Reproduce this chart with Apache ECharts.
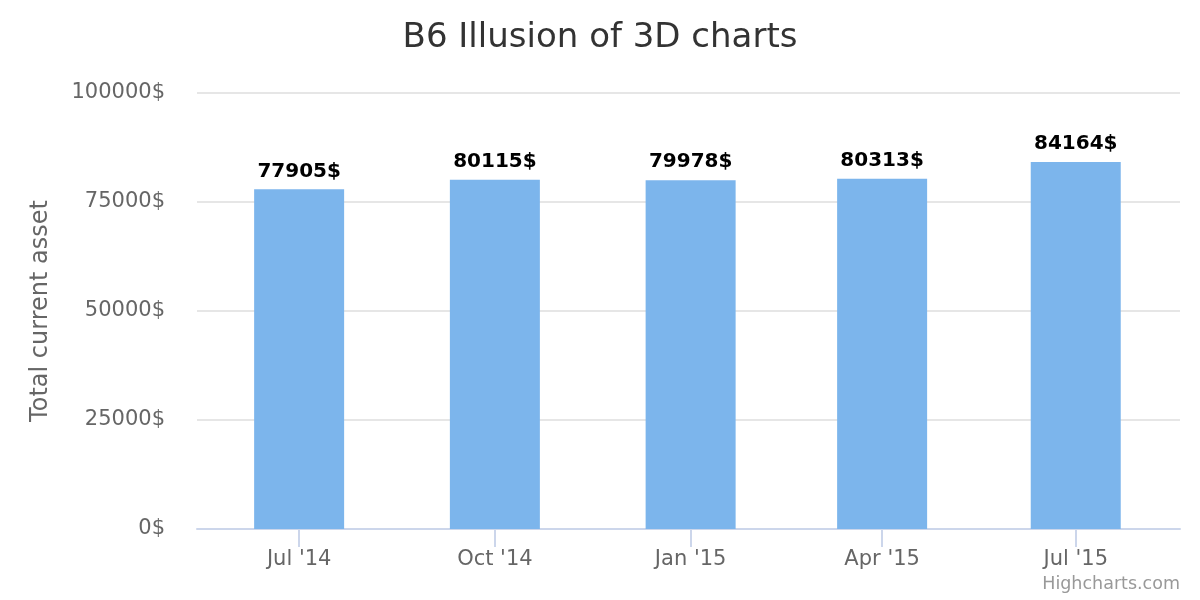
<!DOCTYPE html>
<html><head><meta charset="utf-8">
<script src="https://cdn.jsdelivr.net/npm/echarts@6/dist/echarts.min.js"></script>
<style>html,body{margin:0;padding:0;background:#fff}#c{width:1200px;height:600px}</style>
</head><body><div id="c"></div>
<script>
const periods = ['2014-07-01', '2014-10-01', '2015-01-01', '2015-04-01', '2015-07-01'];
const periodLabels = ["Jul '14", "Oct '14", "Jan '15", "Apr '15", "Jul '15"];
const assets = [77905, 80115, 79978, 80313, 84164];
const yMin = 0, yMax = 100000, yStep = 25000;
const chartTitle = 'B6 Illusion of 3D charts';
const yTitle = 'Total current asset';
const creditText = 'Highcharts.com';

const DAY = 86400000;
// day numbers (days since epoch) used as positions on a linear value axis
const days = periods.map(s => Math.round(Date.parse(s + 'T00:00:00Z') / DAY));
const FONT = 'DejaVu Sans';

const chart = echarts.init(document.getElementById('c'), null, {renderer: 'canvas'});
chart.setOption({
  backgroundColor: '#ffffff',
  animation: false,
  title: {
    text: chartTitle,
    left: 'center',
    top: 16,
    textStyle: {fontFamily: FONT, fontSize: 34, fontWeight: 'normal', color: '#333333'}
  },
  grid: {left: 197, right: 20, top: 93, bottom: 71, containLabel: false},
  xAxis: {
    type: 'value',
    min: days[0] - 48,
    max: days[days.length - 1] + 49,
    axisLine: {show: true, lineStyle: {color: '#ccd6eb', width: 2}},
    axisTick: {show: true, customValues: days, length: 18, lineStyle: {color: '#ccd6eb', width: 2}},
    axisLabel: {
      customValues: days,
      margin: 20,
      color: '#666666',
      fontFamily: FONT,
      fontSize: 21,
      formatter: function (v) {
        const i = days.indexOf(v);
        return i >= 0 ? periodLabels[i] : '';
      }
    },
    splitLine: {show: false}
  },
  yAxis: {
    type: 'value',
    min: yMin, max: yMax, interval: yStep,
    name: yTitle,
    nameLocation: 'middle',
    nameRotate: 90,
    nameGap: 144,
    nameTextStyle: {fontFamily: FONT, fontSize: 24, color: '#666666'},
    axisLine: {show: false},
    axisTick: {show: false},
    axisLabel: {
      formatter: v => String(v) + '$',
      color: '#666666', fontFamily: FONT, fontSize: 21, margin: 32
    },
    splitLine: {lineStyle: {color: '#e6e6e6', width: 2}}
  },
  series: [{
    type: 'bar',
    barWidth: 90,
    data: days.map((d, i) => [d, assets[i]]),
    itemStyle: {color: '#7cb5ec'},
    label: {
      show: true,
      position: 'top',
      distance: 8,
      formatter: p => p.value[1] + '$',
      fontFamily: FONT,
      fontSize: 20,
      fontWeight: 'bold',
      color: '#000000',
      textBorderColor: '#ffffff',
      textBorderWidth: 1
    }
  }],
  graphic: [{
    type: 'text',
    right: 20,
    top: 575,
    style: {text: creditText, fontFamily: FONT, fontSize: 17.5, fill: '#999999'}
  }]
});
</script>
</body></html>
